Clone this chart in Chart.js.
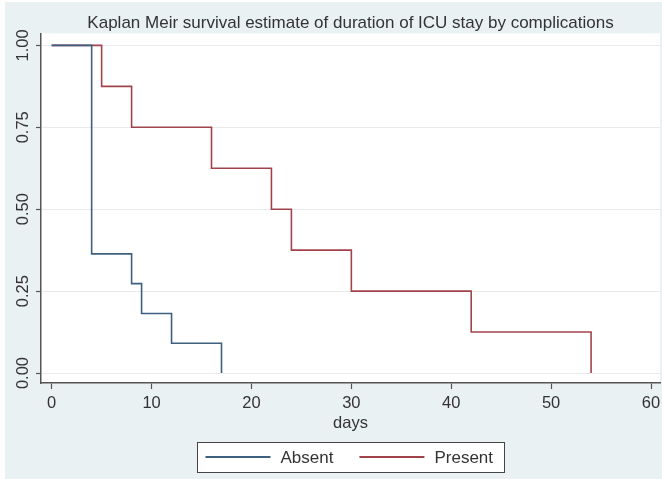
<!DOCTYPE html>
<html>
<head>
<meta charset="utf-8">
<script src="https://cdn.jsdelivr.net/npm/chart.js@4"></script>
<style>
  html, body { margin: 0; padding: 0; background: #fff; }
  canvas { display: block; }
</style>
</head>
<body>
<canvas id="canvas" width="662" height="479"></canvas>
<script>
// Kaplan-Meier steps
const absentDays = [0, 4, 8, 9, 12, 17];
const absentSurv = [1, 0.3636, 0.2727, 0.1818, 0.0909, 0];
const presentDays = [0, 5, 8, 16, 22, 24, 30, 42, 54];
const presentSurv = [1, 0.875, 0.75, 0.625, 0.5, 0.375, 0.25, 0.125, 0];

const xTicks = [0, 10, 20, 30, 40, 50, 60];
const yTicks = [0, 0.25, 0.5, 0.75, 1];
const yTickLabels = ['0.00', '0.25', '0.50', '0.75', '1.00'];

const titleText = 'Kaplan Meir survival estimate of duration of ICU stay by complications';
const xTitle = 'days';

const FONT = "'Liberation Sans', Arial, sans-serif";
const bg = '#eaf1f3';
const axisColor = '#555555';
const textColor = '#333333';

const toPoints = (xs, ys) => xs.map((x, i) => ({ x: x, y: ys[i] }));

// background, white plot region, rotated y labels and boxed legend
const stataLook = {
  id: 'stataLook',
  beforeDraw(chart) {
    const { ctx, chartArea: a, width, height } = chart;
    ctx.save();
    ctx.fillStyle = '#ffffff';
    ctx.fillRect(0, 0, width, height);
    ctx.fillStyle = bg;
    ctx.fillRect(5, 2, width - 5, height - 2);
    ctx.fillStyle = '#ffffff';
    ctx.fillRect(a.left, a.top, a.right - a.left, a.bottom - a.top);
    ctx.restore();
  },
  afterDraw(chart) {
    const { ctx, chartArea: a } = chart;
    const ys = chart.scales.y;
    ctx.save();
    ctx.fillStyle = textColor;
    ctx.font = '16.5px ' + FONT;
    ctx.textAlign = 'center';
    ctx.textBaseline = 'alphabetic';
    yTicks.forEach((v, i) => {
      ctx.save();
      ctx.translate(27.5, ys.getPixelForValue(v));
      ctx.rotate(-Math.PI / 2);
      ctx.fillText(yTickLabels[i], 0, 0);
      ctx.restore();
    });

    // legend
    const lineLen = 65, gap = 10, itemGap = 26, padL = 8, padR = 11;
    const cy = 457, boxH = 30;
    ctx.font = '17px ' + FONT;
    const items = chart.data.datasets.map(ds => ({
      label: ds.label, color: ds.borderColor, w: ctx.measureText(ds.label).width
    }));
    let total = 0;
    items.forEach((it, i) => { total += lineLen + gap + it.w + (i ? itemGap : 0); });
    const cx = (a.left + a.right) / 2;
    const boxLeft = Math.round(cx - (total + padL + padR) / 2) + 0.5;
    ctx.fillStyle = '#ffffff';
    ctx.fillRect(boxLeft, cy - boxH / 2, total + padL + padR, boxH);
    ctx.strokeStyle = '#444444';
    ctx.lineWidth = 1;
    ctx.strokeRect(boxLeft, Math.round(cy - boxH / 2) + 0.5, Math.round(total + padL + padR), boxH);
    let x = boxLeft + padL;
    ctx.textAlign = 'left';
    ctx.textBaseline = 'middle';
    items.forEach((it, i) => {
      if (i) x += itemGap;
      ctx.strokeStyle = it.color;
      ctx.lineWidth = 2;
      ctx.beginPath();
      ctx.moveTo(x, cy);
      ctx.lineTo(x + lineLen, cy);
      ctx.stroke();
      x += lineLen + gap;
      ctx.fillStyle = textColor;
      ctx.fillText(it.label, x, cy + 1);
      x += it.w;
    });
    ctx.restore();
  }
};

const config = {
  type: 'line',
  data: {
    datasets: [
      {
        label: 'Absent',
        data: toPoints(absentDays, absentSurv),
        borderColor: '#3d5f80',
        borderWidth: 1.6,
        stepped: 'before',
        pointRadius: 0,
        fill: false,
      },
      {
        label: 'Present',
        data: toPoints(presentDays, presentSurv),
        borderColor: '#a0434b',
        borderWidth: 1.6,
        stepped: 'before',
        pointRadius: 0,
        fill: false,
      },
    ],
  },
  options: {
    responsive: false,
    animation: false,
    layout: { padding: { left: 0, right: 2, top: 0, bottom: 0 } },
    plugins: {
      legend: { display: false },
      tooltip: { enabled: false },
      title: {
        display: true,
        text: titleText,
        fullSize: false,
        color: textColor,
        font: { family: FONT, size: 17, weight: 'normal' },
        padding: { top: 13, bottom: 0 },
      },
    },
    scales: {
      x: {
        type: 'linear',
        min: -1.07,
        max: 60.9,
        afterBuildTicks: s => { s.ticks = xTicks.map(v => ({ value: v })); },
        afterFit: s => { s.height = 96; s.paddingRight = 0; },
        grid: { drawOnChartArea: false, drawTicks: true, tickLength: 6, tickColor: axisColor, tickWidth: 1.2 },
        border: { color: axisColor, width: 1.5 },
        ticks: { color: textColor, padding: 5, font: { family: FONT, size: 16.5 } },
        title: {
          display: true,
          text: xTitle,
          color: textColor,
          font: { family: FONT, size: 16.5 },
          padding: { top: 0, bottom: 46 },
        },
      },
      y: {
        type: 'linear',
        min: -0.0305,
        max: 1.0366,
        afterBuildTicks: s => { s.ticks = yTicks.map(v => ({ value: v })); },
        afterFit: s => { s.width = 41; },
        grid: { color: '#e9e9e9', lineWidth: 1, drawTicks: true, tickLength: 5, tickColor: axisColor, tickWidth: 1.2 },
        border: { color: axisColor, width: 1.5 },
        ticks: { display: false },
      },
    },
  },
  plugins: [stataLook],
};

const ctx = document.getElementById('canvas').getContext('2d');
window.kmChart = new Chart(ctx, config);
</script>
</body>
</html>
